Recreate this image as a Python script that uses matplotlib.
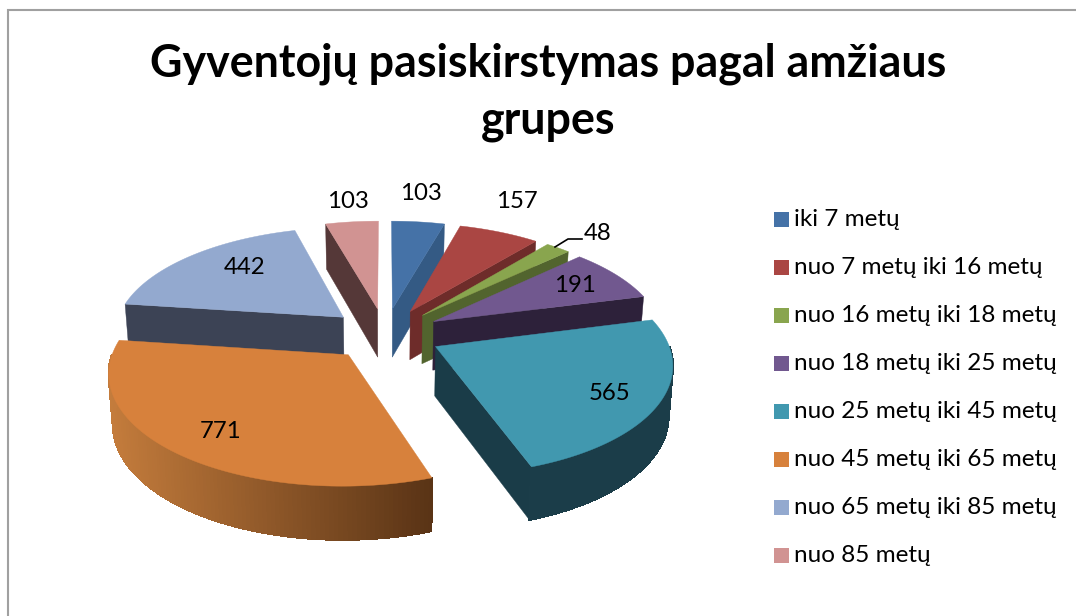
import numpy as np
import matplotlib
matplotlib.use("Agg")
import matplotlib.pyplot as plt
from matplotlib.patches import Polygon, Rectangle

plt.rcParams['font.family'] = ['Lato', 'DejaVu Sans']

title = "Gyventojų pasiskirstymas pagal amžiaus\ngrupes"
labels = ["iki 7 metų", "nuo 7 metų iki 16 metų", "nuo 16 metų iki 18 metų", "nuo 18 metų iki 25 metų",
          "nuo 25 metų iki 45 metų", "nuo 45 metų iki 65 metų", "nuo 65 metų iki 85 metų", "nuo 85 metų"]
values = [103, 157, 48, 191, 565, 771, 442, 103]

top_colors = ["#4572A7", "#AA4643", "#89A54E", "#71588F", "#4198AF", "#D7813C", "#93A9CF", "#D19392"]
wall_colors = ["#345A84", "#6E2C2A", "#52642E", "#2D213A", "#1A3C48", "#7A4A20", "#3C4355", "#553838"]
# rim shading, left to right
rim_light = ["#345A84", "#6E2C2A", "#52642E", "#2D213A", "#1C3F4C", "#C47C3C", "#3C4355", "#553838"]
rim_dark = ["#345A84", "#6E2C2A", "#52642E", "#2D213A", "#1A3A46", "#5A3416", "#3C4355", "#553838"]
draw_order = [7, 0, 1, 2, 3, 6, 4, 5]

label_xy = [(421, 194), (517, 202), (598, 234), (575, 286), (609, 394), (221, 432), (245, 268), (348, 202)]

# projection of the pie plane to pixels
explode = 0.245
cx, cy = 385, 334
sx, sy = 230, 106.6
persp = 0.14
depth = 49


def project(X, Y):
    s = 1 / (1 + persp * Y)
    return cx + sx * X * s, cy - sy * Y * s


def drop(X, Y):
    # same point on the underside of the pie
    x, y = project(X, Y)
    return cx + (x - cx) * 0.985, y + depth / (1 + 0.07 * Y)


def mix(c1, c2, t):
    a = np.array(matplotlib.colors.to_rgb(c1))
    b = np.array(matplotlib.colors.to_rgb(c2))
    return tuple(a + (b - a) * t)


fig = plt.figure(figsize=(10.76, 6.16), dpi=100)
ax = fig.add_axes([0, 0, 1, 1])
ax.set_xlim(0, 1076)
ax.set_ylim(616, 0)
ax.axis('off')

# chart frame, cut by the image edge
ax.plot([1076, 8, 8], [10, 10, 616], color="#A0A0A0", lw=1.5, solid_joinstyle='miter')

edges = np.cumsum([0] + values) / sum(values) * 2 * np.pi

for i in draw_order:
    a0, a1 = edges[i], edges[i + 1]
    mid = (a0 + a1) / 2
    ox, oy = explode * np.sin(mid), explode * np.cos(mid)
    angles = np.linspace(a0, a1, max(int((a1 - a0) * 60), 4))
    rx = ox + np.sin(angles)
    ry = oy + np.cos(angles)

    # straight walls, only those facing the viewer
    for a, normal in [(a0, a0 - np.pi / 2), (a1, a1 + np.pi / 2)]:
        if np.cos(normal) < 0:
            ex, ey = ox + np.sin(a), oy + np.cos(a)
            quad = [project(ox, oy), project(ex, ey), drop(ex, ey), drop(ox, oy)]
            ax.add_patch(Polygon(quad, fc=wall_colors[i], ec=wall_colors[i], lw=0.3))

    # curved wall in small pieces
    xs = [project(x, y)[0] for x, y in zip(rx, ry)]
    for j in range(len(angles) - 1):
        if np.cos((angles[j] + angles[j + 1]) / 2) < 0:
            t = np.clip((xs[j] - 108) / (430 - 108), 0, 1) if i == 5 else 0.5
            c = mix(rim_light[i], rim_dark[i], t)
            quad = [project(rx[j], ry[j]), project(rx[j + 1], ry[j + 1]),
                    drop(rx[j + 1], ry[j + 1]), drop(rx[j], ry[j])]
            ax.add_patch(Polygon(quad, fc=c, ec=c, lw=1.0, antialiased=False))

    # top face
    face = [project(ox, oy)] + [project(x, y) for x, y in zip(rx, ry)]
    ax.add_patch(Polygon(face, fc=top_colors[i], ec=top_colors[i], lw=0.3))

ax.text(548, 92, title, ha='center', va='center', fontsize=32.2, fontweight='bold', color='black', linespacing=1.42)

for v, (x, y) in zip(values, label_xy):
    ax.text(x, y, str(v), ha='center', va='center', fontsize=17.3, color='black')

# leader line of the small slice
ax.plot([555, 568, 582], [247, 239, 239], color='black', lw=1.2)

for i, lab in enumerate(labels):
    y = 219 + i * 48.1
    ax.add_patch(Rectangle((774, y - 7.5), 15, 15, fc=top_colors[i], ec='none'))
    ax.text(794, y, lab, ha='left', va='center', fontsize=17.5, color='black')

fig.savefig("out.png", dpi=100, facecolor='white')
